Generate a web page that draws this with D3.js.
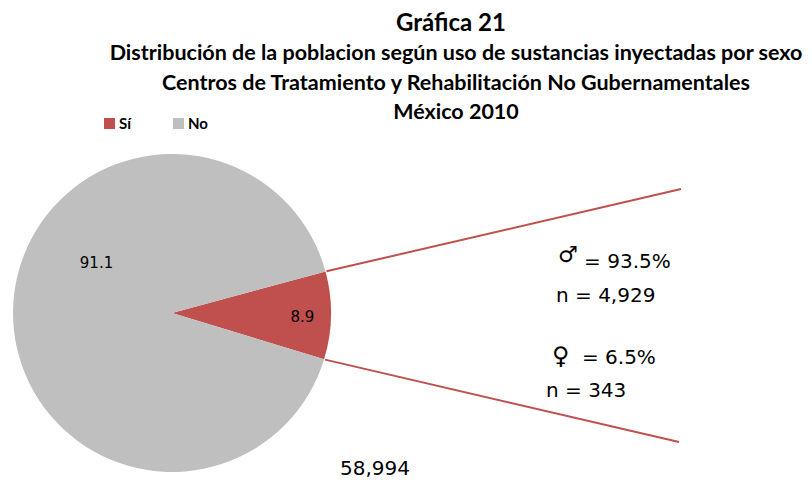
<html>
<head>
<meta charset="utf-8" />
<script src="https://d3js.org/d3.v7.min.js"></script>
<style>
  body { margin: 0; background: #fff; }
  svg { display: block; }
</style>
</head>
<body>
<div id="viz"><svg></svg></div>
<script>
// datos de la gráfica
var categories = ["Sí", "No"];
var values = [8.9, 91.1];
var colors = ["#c0504d", "#bfbfbf"];
var total = "58,994";
var sexLabels = ["\u2642", "\u2640"];
var sexPct = ["93.5%", "6.5%"];
var sexN = ["4,929", "343"];
var titles = [
  "Gráfica 21",
  "Distribución de la poblacion según uso de sustancias inyectadas por sexo",
  "Centros de Tratamiento y Rehabilitación No Gubernamentales",
  "México 2010"
];

var W = 812, H = 481;
var svg = d3.select("svg").attr("width", W).attr("height", H);
var font = "Lato, 'Open Sans', sans-serif";
var font2 = "'DejaVu Sans', sans-serif";

// títulos
svg.append("text")
  .attr("x", 451).attr("y", 31)
  .attr("text-anchor", "middle")
  .style("font-family", font).style("font-weight", "bold").style("font-size", "24px")
  .text(titles[0]);
svg.selectAll("text.sub")
  .data(titles.slice(1))
  .enter().append("text")
  .attr("class", "sub")
  .attr("x", 456)
  .attr("y", function (d, i) { return 60 + i * 29.5; })
  .attr("text-anchor", "middle")
  .style("font-family", font).style("font-weight", "bold").style("font-size", "21.5px")
  .text(function (d) { return d; });

// leyenda
var leg = svg.selectAll("g.leg")
  .data(categories)
  .enter().append("g")
  .attr("class", "leg")
  .attr("transform", function (d, i) { return "translate(" + (104 + i * 69) + ",118)"; });
leg.append("rect").attr("width", 11).attr("height", 11)
  .attr("fill", function (d, i) { return colors[i]; });
leg.append("text").attr("x", 15).attr("y", 11)
  .style("font-family", font).style("font-weight", "bold").style("font-size", "15px")
  .text(function (d) { return d; });

// pastel
var cx = 172, cy = 313, r = 159;
var start = 74.9 * Math.PI / 180;
var pie = d3.pie().sort(null).startAngle(start).endAngle(start + 2 * Math.PI);
var arcs = pie(values);
var arc = d3.arc().innerRadius(0).outerRadius(r);
var g = svg.append("g").attr("transform", "translate(" + cx + "," + cy + ")");
g.selectAll("path")
  .data(arcs)
  .enter().append("path")
  .attr("d", arc)
  .attr("fill", function (d, i) { return colors[i]; });

// etiquetas de porcentaje
var labelPos = [[130.5, 4], [-75.5, -50]];
g.selectAll("text.val")
  .data(arcs)
  .enter().append("text")
  .attr("class", "val")
  .attr("x", function (d, i) { return labelPos[i][0]; })
  .attr("y", function (d, i) { return labelPos[i][1]; })
  .attr("dy", "0.35em")
  .attr("text-anchor", "middle")
  .style("font-family", font2).style("font-size", "15px")
  .text(function (d) { return d.data.toFixed(1); });

// líneas hacia el desglose por sexo
var si = arcs[0];
var ends = [[681, 189], [679, 442]];
[si.startAngle, si.endAngle].forEach(function (a, i) {
  var rr = r + 1;
  var x0 = cx + rr * Math.sin(a), y0 = cy - rr * Math.cos(a);
  svg.append("line")
    .attr("x1", x0).attr("y1", y0)
    .attr("x2", ends[i][0]).attr("y2", ends[i][1])
    .attr("stroke", colors[0]).attr("stroke-width", 2);
});

// desglose por sexo
var sexPos = [[558, 268, 556, 302], [552, 364, 546, 397]];
sexLabels.forEach(function (s, i) {
  var p = sexPos[i];
  var t = svg.append("text").attr("x", p[0]).attr("y", p[1])
    .style("font-family", font2).style("font-size", "20px");
  if (i === 0) {
    t.append("tspan").attr("dy", -6).style("font-size", "22px").text(s);
    t.append("tspan").attr("dy", 6).text(" = " + sexPct[i]);
  } else {
    t.append("tspan").style("font-size", "24px").text(s);
    t.append("tspan").attr("dx", 6).text(" = " + sexPct[i]);
  }
  svg.append("text").attr("x", p[2]).attr("y", p[3])
    .style("font-family", font2).style("font-size", "20px")
    .text("n = " + sexN[i]);
});

// total
svg.append("text").attr("x", 375).attr("y", 475)
  .attr("text-anchor", "middle")
  .style("font-family", font2).style("font-size", "20px")
  .text(total);
</script>
</body>
</html>
